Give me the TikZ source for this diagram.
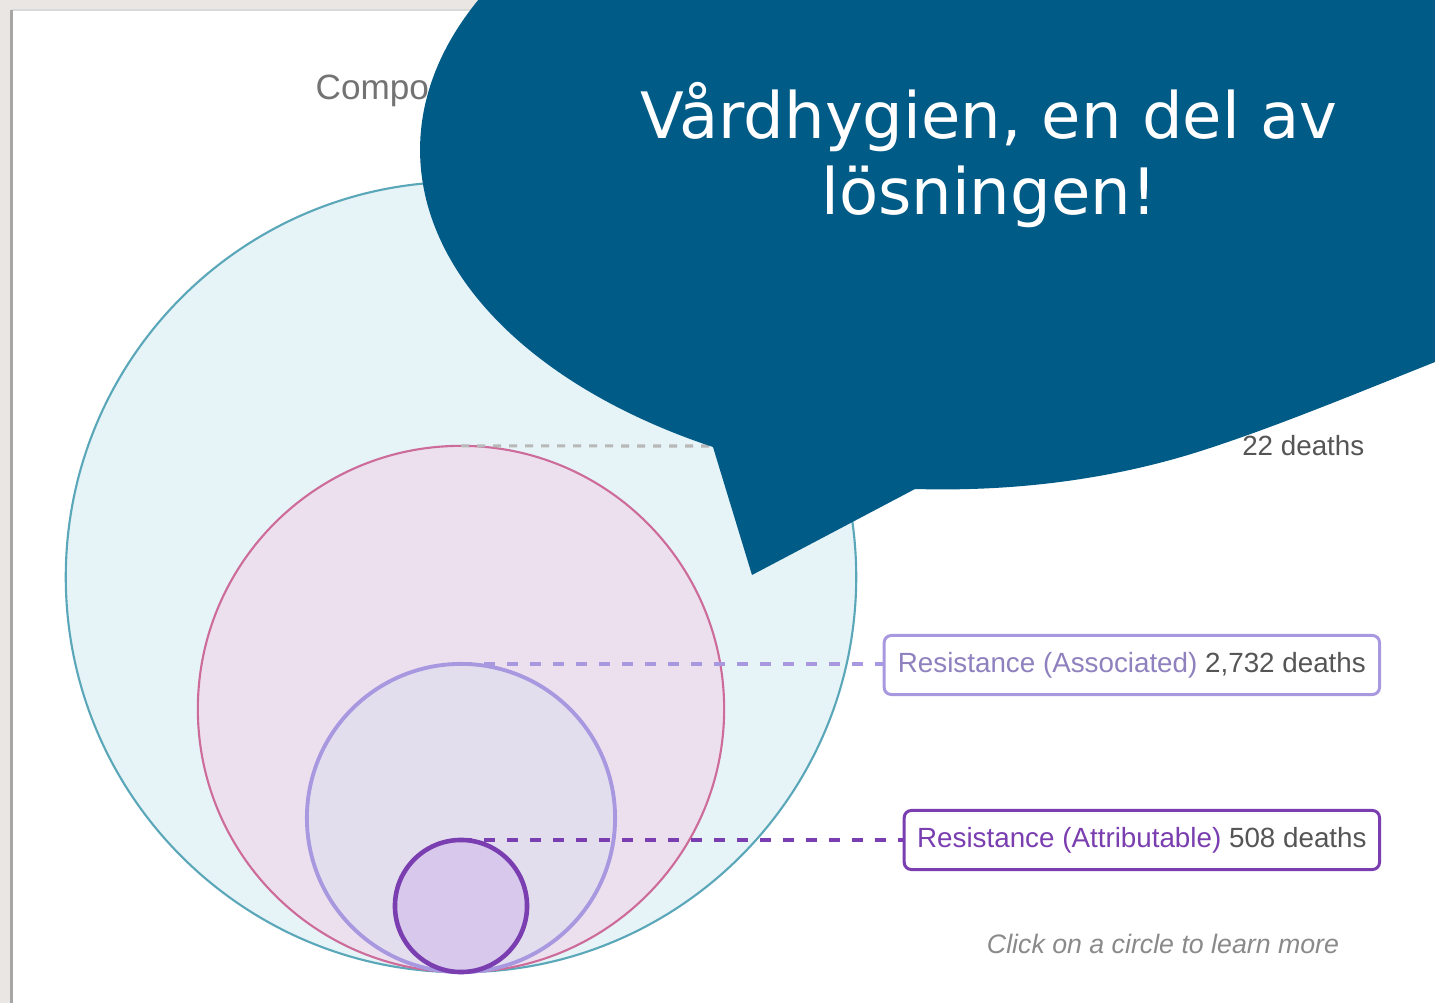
\documentclass[tikz,border=0pt]{standalone}
\usepackage{fontspec}
\setmainfont{Liberation Sans}
\newfontfamily\titlefont{DejaVu Sans}
\usetikzlibrary{positioning}

\definecolor{pagegray}{RGB}{234,230,227}
\definecolor{bubbleblue}{RGB}{0,91,135}
\definecolor{totalfill}{RGB}{230,243,247}
\definecolor{totalline}{RGB}{90,167,185}
\definecolor{hospfill}{RGB}{237,224,238}
\definecolor{hospline}{RGB}{205,107,154}
\definecolor{assocfill}{RGB}{227,222,238}
\definecolor{assocline}{RGB}{168,152,224}
\definecolor{attrfill}{RGB}{216,201,236}
\definecolor{attrline}{RGB}{122,62,176}
\definecolor{deathgray}{RGB}{85,85,85}
\definecolor{hintgray}{RGB}{138,138,138}

\begin{document}
\begin{tikzpicture}[x=0.01cm, y=-0.01cm,
  ring/.style={circle, inner sep=0pt, outer sep=0pt},
  lblbox/.style={draw, rounded corners=0.07cm, line width=0.85pt, fill=white,
    minimum height=0.59cm, inner sep=0pt, anchor=east,
    font=\fontsize{7.9}{9}\selectfont, text=deathgray},
  leader/.style={line width=1.1pt, dash pattern=on 0.11cm off 0.12cm}]
\useasboundingbox (0,0) rectangle (1435,1003);
\clip (0,0) rectangle (1435,1003);

% page
\fill[pagegray] (0,0) rectangle (1435,1003);
\fill[white] (12,10) rectangle (1435,1003);
\draw[black!15, line width=0.4pt] (12,10) -- (1435,10);
\draw[black!35, line width=0.7pt] (11.5,1003) -- (11.5,10);

\node[anchor=base west, inner sep=0pt, text=black!55, font=\fontsize{10}{12}\selectfont] (heading) at (315,100) {Compo};

% circles
\node[ring, draw=totalline, fill=totalfill, line width=0.6pt, minimum size=7.9cm] (total) at (461,577) {};
\node[ring, draw=hospline, fill=hospfill, line width=0.6pt, minimum size=5.26cm] (hosp) at (461,709) {};
\node[ring, draw=assocline, fill=assocfill, line width=1.1pt, minimum size=3.08cm] (assoc) at (461,818) {};
\node[ring, draw=attrline, fill=attrfill, line width=1.3pt, minimum size=1.32cm] (attr) at (461,906) {};

% labels
\coordinate (hospend) at (800,446);
\node[anchor=base east, inner sep=0pt, text=deathgray, font=\fontsize{7.9}{9}\selectfont] (hosplbl) at (1365,455) {22 deaths};
\node[lblbox, draw=assocline, minimum width=4.95cm] (assocbox) at (1381,665) {\textcolor{assocline!85!black}{Resistance (Associated)} 2,732 deaths};
\node[lblbox, draw=attrline, minimum width=4.75cm] (attrbox) at (1381,840) {\textcolor{attrline}{Resistance (Attributable)} 508 deaths};
\node[inner sep=0pt, text=hintgray, font=\fontsize{7.6}{9}\selectfont\itshape] (hint) at (1163,944) {Click on a circle to learn more};

\draw[line width=0.9pt, black!28, dash pattern=on 0.08cm off 0.08cm] (hosp.north) -- (hospend);
\draw[leader, assocline] (assoc.north) -- (assoc.north -| assocbox.west);
\draw[leader, attrline] (attr.north) -- (attr.north -| attrbox.west);

% speech bubble
\fill[bubbleblue] (713,447) arc[start angle=240.9, end angle=150, x radius=5.7cm, y radius=3.4cm]
  -- (1500,-20) -- (1500,340) -- (1435,362)
  .. controls (1360,392) and (1280,425) .. (1210,448)
  .. controls (1120,478) and (1020,492) .. (915,489)
  -- (752,575) -- cycle;

\node[anchor=base, text=white, font=\titlefont\fontsize{18.2}{22}\selectfont] (title) at (989,138) {Vårdhygien, en del av};
\node[anchor=base, text=white, font=\titlefont\fontsize{18.2}{22}\selectfont] (title2) at (989,215) {lösningen!};
\end{tikzpicture}
\end{document}
